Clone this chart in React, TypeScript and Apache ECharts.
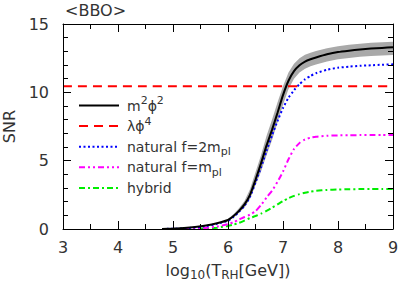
import React, { useEffect, useRef } from 'react';
import * as echarts from 'echarts';

// log10(T_RH / GeV) sample points
const tRH = [4.8, 5.0, 5.2, 5.4, 5.6, 5.8, 6.0, 6.1, 6.2, 6.3, 6.4, 6.5, 6.6, 6.7, 6.8, 6.9, 7.0, 7.1, 7.2, 7.3, 7.4, 7.5, 7.6, 7.8, 8.0, 8.2, 8.4, 8.6, 8.8, 9.0];

// SNR values
const snrM2Phi2 = [0, 0.03, 0.07, 0.14, 0.25, 0.42, 0.66, 0.95, 1.33, 1.8, 2.5, 3.6, 4.8, 6.1, 7.25, 8.5, 9.8, 10.85, 11.55, 11.98, 12.25, 12.42, 12.55, 12.78, 12.95, 13.05, 13.13, 13.2, 13.25, 13.3];
const bandHigh = [null, null, null, null, null, null, 0.75, 1.08, 1.52, 2.05, 2.9, 4.15, 5.4, 6.8, 8.0, 9.25, 10.45, 11.45, 12.1, 12.5, 12.75, 12.9, 13.02, 13.22, 13.38, 13.48, 13.56, 13.62, 13.66, 13.7];
const bandLow = [null, null, null, null, null, null, 0.58, 0.83, 1.18, 1.58, 2.2, 3.2, 4.2, 5.4, 6.5, 7.8, 9.1, 10.25, 11.0, 11.45, 11.72, 11.9, 12.03, 12.25, 12.42, 12.52, 12.6, 12.66, 12.7, 12.73];
const snrNatural2 = [0, 0.02, 0.05, 0.11, 0.21, 0.38, 0.6, 0.88, 1.25, 1.7, 2.35, 3.4, 4.5, 5.7, 6.85, 7.9, 8.85, 9.6, 10.15, 10.6, 10.95, 11.2, 11.4, 11.65, 11.8, 11.88, 11.94, 11.98, 12.02, 12.05];
const snrNatural1 = [null, null, 0, 0.03, 0.08, 0.18, 0.35, 0.5, 0.68, 0.88, 1.05, 1.3, 1.75, 2.3, 2.8, 3.45, 4.2, 5.1, 5.85, 6.3, 6.55, 6.68, 6.75, 6.82, 6.85, 6.86, 6.87, 6.87, 6.88, 6.88];
const snrHybrid = [null, null, 0, 0.01, 0.04, 0.1, 0.22, 0.32, 0.45, 0.62, 0.8, 0.95, 1.12, 1.33, 1.55, 1.8, 2.05, 2.25, 2.42, 2.55, 2.65, 2.73, 2.79, 2.86, 2.89, 2.91, 2.92, 2.93, 2.93, 2.93];
const lambdaPhi4Level = 10.45;

const xRange = [3, 9];
const yRange = [0, 15];

const legendLabels = [
  'm{sup|2}ϕ{sup|2}',
  'λϕ{sup|4}',
  'natural f=2m{sub|pl}',
  'natural f=m{sub|pl}',
  'hybrid',
];
const titleText = '<BBO>';
const yName = 'SNR';
const xName = 'log{sub|10}(T{sub|RH}[GeV])';

const FONT = 'DejaVu Sans';
const TEXT = '#333';
const styles = [
  { color: '#000000', dash: 'solid' as any },
  { color: '#ff0000', dash: [9, 6] },
  { color: '#0000ff', dash: [2, 2.5] },
  { color: '#ff00ff', dash: [6, 3, 2, 3, 2, 3] },
  { color: '#00ee00', dash: [6, 3, 2, 3] },
];

function pts(ys: (number | null)[]) {
  const out: number[][] = [];
  tRH.forEach((x, i) => {
    const y = ys[i];
    if (y !== null && y !== undefined) out.push([x, y]);
  });
  return out;
}

export default function App() {
  const ref = useRef<HTMLDivElement>(null);
  useEffect(() => {
    const chart = echarts.init(ref.current!, null, { renderer: 'svg' });
    const highPts = pts(bandHigh);
    const lowPts = pts(bandLow);

    const baseX = {
      type: 'value',
      min: xRange[0],
      max: xRange[1],
      interval: 1,
      z: 10,
      axisLine: { onZero: false, lineStyle: { color: '#000', width: 1 } },
      axisTick: { inside: true, length: 8, lineStyle: { color: '#000' } },
      minorTick: { show: true, splitNumber: 2, length: 5, lineStyle: { color: '#000' } },
      splitLine: { show: false },
      minorSplitLine: { show: false },
    };
    const baseY = {
      type: 'value',
      min: yRange[0],
      max: yRange[1],
      interval: 5,
      z: 10,
      axisLine: { onZero: false, lineStyle: { color: '#000', width: 1 } },
      axisTick: { inside: true, length: 8, lineStyle: { color: '#000' } },
      minorTick: { show: true, splitNumber: 5, length: 5, lineStyle: { color: '#000' } },
      splitLine: { show: false },
      minorSplitLine: { show: false },
    };

    const lineSeries = (data: number[][], idx: number, z: number) => ({
      type: 'line',
      data,
      showSymbol: false,
      symbol: 'none',
      smooth: 0.2,
      z,
      silent: true,
      lineStyle: { color: styles[idx].color, width: 2, type: styles[idx].dash },
    });

    const legendY0 = 105.5;
    const legendDY = 20.6;
    const graphics: any[] = [
      {
        type: 'text',
        x: 65,
        y: 2,
        style: { text: titleText, fill: TEXT, fontSize: 16, fontFamily: FONT, verticalAlign: 'top' },
      },
    ];
    legendLabels.forEach((lab, i) => {
      const y = legendY0 + i * legendDY;
      graphics.push({
        type: 'line',
        shape: { x1: 79, y1: y, x2: 119, y2: y },
        style: { stroke: styles[i].color, lineWidth: 2, lineDash: styles[i].dash === 'solid' ? null : styles[i].dash },
      });
      graphics.push({
        type: 'text',
        x: 127,
        y: y,
        style: {
          text: lab,
          fill: TEXT,
          fontSize: 14,
          fontFamily: FONT,
          lineHeight: 21,
          verticalAlign: 'middle',
          rich: {
            sup: { fontSize: 11, fontFamily: FONT, fill: TEXT, verticalAlign: 'top', lineHeight: 11 },
            sub: { fontSize: 11, fontFamily: FONT, fill: TEXT, verticalAlign: 'bottom', lineHeight: 11 },
          },
        },
      });
    });

    chart.setOption({
      animation: false,
      backgroundColor: '#fff',
      grid: { left: 63, right: 6, top: 24, bottom: 53, show: false, containLabel: false, outerBoundsMode: 'none' },
      xAxis: [
        {
          ...baseX,
          position: 'bottom',
          axisLabel: { fontSize: 16, fontFamily: FONT, color: TEXT, margin: 10 },
          name: xName,
          nameLocation: 'middle',
          nameGap: 27,
          nameTextStyle: {
            fontSize: 16,
            fontFamily: FONT,
            color: TEXT,
            lineHeight: 21,
            rich: { sub: { fontSize: 12, fontFamily: FONT, color: TEXT, verticalAlign: 'bottom', lineHeight: 12 } },
          },
        },
        { ...baseX, position: 'top', axisLabel: { show: false } },
      ],
      yAxis: [
        {
          ...baseY,
          position: 'left',
          axisLabel: { fontSize: 16, fontFamily: FONT, color: TEXT, margin: 14 },
          name: yName,
          nameLocation: 'middle',
          nameGap: 43,
          nameTextStyle: { fontSize: 16, fontFamily: FONT, color: TEXT },
        },
        { ...baseY, position: 'right', axisLabel: { show: false } },
      ],
      graphic: graphics,
      series: [
        {
          type: 'custom',
          data: [[7, 12]],
          z: 1,
          silent: true,
          renderItem: (_params: any, api: any) => {
            const points = [
              ...highPts.map((p) => api.coord(p)),
              ...lowPts.slice().reverse().map((p) => api.coord(p)),
            ];
            return { type: 'polygon', shape: { points }, style: { fill: '#a9a9a9' } };
          },
        },
        lineSeries(pts(snrHybrid), 4, 3),
        lineSeries(pts(snrNatural1), 3, 3),
        lineSeries(pts(snrNatural2), 2, 3),
        lineSeries([[xRange[0], lambdaPhi4Level], [xRange[1], lambdaPhi4Level]], 1, 4),
        lineSeries(pts(snrM2Phi2), 0, 5),
      ],
    });
    return () => chart.dispose();
  }, []);
  return <div ref={ref} style={{ position: 'fixed', left: 0, top: 0, width: 399, height: 282 }} />;
}
